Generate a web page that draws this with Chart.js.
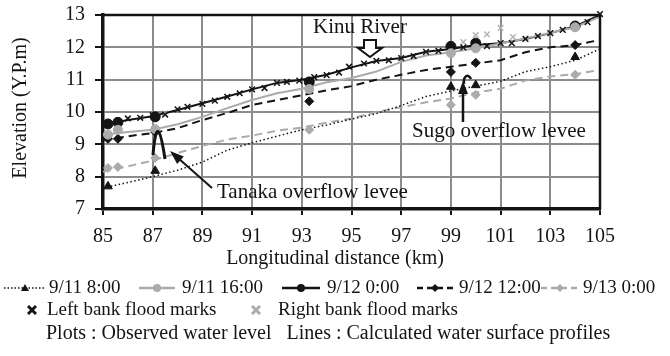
<!DOCTYPE html>
<html>
<head>
<meta charset="utf-8">
<script src="https://cdn.jsdelivr.net/npm/chart.js@4"></script>
<style>
html, body { margin:0; padding:0; background:#fff; }
</style>
</head>
<body>
<canvas id="myChart" width="670" height="356"></canvas>
<script>
// calculated water surface profiles (km, elevation Y.P.m)
const distKm = [85, 86, 87, 88, 89, 90, 91, 92, 93, 94, 95, 96, 97, 98, 99, 100, 101, 102, 103, 104, 105];
const calc0911_0800 = [7.65, 7.82, 8.0, 8.2, 8.45, 8.82, 9.05, 9.25, 9.45, 9.6, 9.78, 9.95, 10.2, 10.48, 10.65, 10.8, 10.95, 11.25, 11.4, 11.6, 11.95];
const calc0911_1600 = [9.3, 9.38, 9.45, 9.62, 9.85, 10.12, 10.37, 10.58, 10.72, 10.92, 11.05, 11.25, 11.55, 11.75, 11.85, 11.97, 12.12, 12.27, 12.45, 12.62, 12.95];
const calc0912_0000 = [9.6, 9.75, 9.87, 10.06, 10.27, 10.48, 10.7, 10.9, 11.0, 11.15, 11.38, 11.58, 11.67, 11.86, 11.95, 12.07, 12.13, 12.26, 12.44, 12.65, 13.0];
const calc0912_1200 = [9.13, 9.25, 9.35, 9.5, 9.75, 9.97, 10.22, 10.37, 10.52, 10.67, 10.8, 11.0, 11.15, 11.3, 11.4, 11.5, 11.6, 11.85, 12.0, 12.07, 12.23];
const calc0913_0000 = [8.15, 8.32, 8.5, 8.73, 8.95, 9.15, 9.27, 9.42, 9.52, 9.67, 9.8, 10.0, 10.15, 10.3, 10.42, 10.6, 10.72, 10.97, 11.1, 11.17, 11.3];

// observed water levels
const obsKm = [85.2, 85.6, 87.1, 93.3, 99, 100, 104];
const obs0911_0800 = [7.7, null, 8.18, null, 10.78, 10.83, 11.7];
const obs0911_1600 = [9.3, 9.45, 9.47, 10.71, 11.82, 11.97, 12.62];
const obs0912_0000 = [9.63, 9.68, 9.85, 10.93, 12.03, 12.13, 12.66];
const obs0912_1200 = [9.17, 9.17, 9.38, 10.33, 11.24, 11.52, 12.07];
const obs0913_0000 = [8.27, 8.3, 8.58, 9.45, 10.22, 10.53, 11.15];

// flood marks
const leftBankKm = [86.0, 86.5, 87.0, 87.5, 88.0, 88.4, 89.0, 89.5, 90.0, 90.5, 91.0, 91.5, 92.0, 92.4, 92.9, 93.5, 94.0, 94.5, 94.9, 95.5, 96.0, 96.5, 97.0, 97.5, 98.0, 98.5, 99.5, 100.45, 101.0, 101.45, 102.0, 102.5, 103.0, 103.5, 104.5, 105.0];
const leftBankLevel = [9.8, 9.82, 9.9, 9.92, 10.08, 10.16, 10.25, 10.35, 10.47, 10.58, 10.7, 10.74, 10.9, 10.93, 10.97, 11.08, 11.14, 11.22, 11.4, 11.5, 11.58, 11.6, 11.67, 11.73, 11.86, 11.89, 12.0, 12.04, 12.13, 12.13, 12.26, 12.35, 12.44, 12.54, 12.78, 13.03];
const rightBankKm = [87.5, 99.5, 100.0, 100.45, 101.0, 101.5];
const rightBankLevel = [9.95, 12.16, 12.38, 12.4, 12.6, 12.32];

const xTicks = [85, 87, 89, 91, 93, 95, 97, 99, 101, 103, 105];
const yTicks = [7, 8, 9, 10, 11, 12, 13];

const timeLabels = ['9/11 8:00', '9/11 16:00', '9/12 0:00', '9/12 12:00', '9/13 0:00'];

const BLACK = '#141414';
const GRAY = '#ababab';
const GRID = '#8c8c8c';
const SERIF = '"Liberation Serif", "Times New Roman", serif';

function pts(xs, ys) {
    return xs.map((x, i) => ({x: x, y: ys[i]})).filter(p => p.y !== null);
}

function markerSet(label, ys, style, color, r) {
    return {
        label: label, data: pts(obsKm, ys), showLine: false,
        pointStyle: style, pointRadius: r, pointHoverRadius: r,
        backgroundColor: color, borderColor: color, borderWidth: 1, clip: 8
    };
}

function lineSet(label, ys, color, dash, w) {
    return {
        label: label, data: pts(distKm, ys), showLine: true, pointRadius: 0,
        borderColor: color, borderWidth: w, borderDash: dash, tension: 0, clip: 4
    };
}

function drawMark(ctx, kind, x, y, r, color) {
    ctx.save();
    ctx.fillStyle = color;
    ctx.strokeStyle = color;
    ctx.setLineDash([]);
    ctx.beginPath();
    if (kind === 'tri') {
        ctx.moveTo(x, y - r); ctx.lineTo(x + r, y + r * 0.75); ctx.lineTo(x - r, y + r * 0.75); ctx.closePath(); ctx.fill();
    } else if (kind === 'circle') {
        ctx.arc(x, y, r, 0, Math.PI * 2); ctx.fill();
    } else if (kind === 'diamond') {
        ctx.moveTo(x, y - r); ctx.lineTo(x + r, y); ctx.lineTo(x, y + r); ctx.lineTo(x - r, y); ctx.closePath(); ctx.fill();
    } else if (kind === 'cross') {
        ctx.lineWidth = 3;
        ctx.moveTo(x - r, y - r); ctx.lineTo(x + r, y + r);
        ctx.moveTo(x + r, y - r); ctx.lineTo(x - r, y + r);
        ctx.stroke();
    }
    ctx.restore();
}

function arrowHead(ctx, x0, y0, x1, y1, len, half) {
    const a = Math.atan2(y1 - y0, x1 - x0);
    ctx.beginPath();
    ctx.moveTo(x1, y1);
    ctx.lineTo(x1 - len * Math.cos(a) + half * Math.sin(a), y1 - len * Math.sin(a) - half * Math.cos(a));
    ctx.lineTo(x1 - len * Math.cos(a) - half * Math.sin(a), y1 - len * Math.sin(a) + half * Math.cos(a));
    ctx.closePath();
    ctx.fill();
}

const decor = {
    id: 'decor',
    afterDraw(chart) {
        const ctx = chart.ctx;
        const a = chart.chartArea;
        ctx.save();
        ctx.setLineDash([]);
        // top and right frame
        ctx.strokeStyle = BLACK;
        ctx.lineWidth = 2.5;
        ctx.beginPath();
        ctx.moveTo(a.left, a.top); ctx.lineTo(a.right, a.top); ctx.lineTo(a.right, a.bottom);
        ctx.stroke();

        ctx.fillStyle = BLACK;
        ctx.textBaseline = 'middle';

        // Kinu River
        ctx.font = '21px ' + SERIF;
        ctx.textAlign = 'left';
        ctx.fillText('Kinu River', 313, 27);
        ctx.beginPath();
        ctx.moveTo(364, 40); ctx.lineTo(376, 40); ctx.lineTo(376, 48); ctx.lineTo(382, 48);
        ctx.lineTo(370, 57); ctx.lineTo(358, 48); ctx.lineTo(364, 48); ctx.closePath();
        ctx.fillStyle = '#fff'; ctx.fill();
        ctx.lineWidth = 2; ctx.stroke();
        ctx.fillStyle = BLACK;

        // Sugo overflow levee
        ctx.fillText('Sugo overflow levee', 412, 131);
        ctx.lineWidth = 2.5;
        ctx.beginPath(); ctx.moveTo(463, 122); ctx.lineTo(463, 92); ctx.stroke();
        arrowHead(ctx, 463, 122, 463, 81, 13, 5);
        ctx.beginPath(); ctx.moveTo(464, 84); ctx.bezierCurveTo(463, 76, 468, 73, 471, 79); ctx.stroke();

        // Tanaka overflow levee
        ctx.fillText('Tanaka overflow levee', 217, 192);
        ctx.lineWidth = 2;
        ctx.beginPath(); ctx.moveTo(212, 188); ctx.lineTo(178, 158); ctx.stroke();
        arrowHead(ctx, 212, 188, 170, 151, 14, 5);
        ctx.lineWidth = 3;
        ctx.beginPath(); ctx.moveTo(153, 155); ctx.quadraticCurveTo(157, 106, 165, 159); ctx.stroke();

        // axis titles
        ctx.font = '20px ' + SERIF;
        ctx.textAlign = 'center';
        ctx.fillText('Longitudinal distance (km)', 335, 259);
        ctx.save();
        ctx.translate(21, 108);
        ctx.rotate(-Math.PI / 2);
        ctx.fillText('Elevation (Y.P.m)', 0, 0);
        ctx.restore();

        // legend
        ctx.font = '19px ' + SERIF;
        ctx.textAlign = 'left';
        const r1 = 288;
        const items = [
            {x0: 4, x1: 46, tx: 49, color: BLACK, dash: [1.5, 2], w: 1.5, mk: 'tri'},
            {x0: 139, x1: 175, tx: 182, color: GRAY, dash: [], w: 2.5, mk: 'circle'},
            {x0: 282, x1: 320, tx: 327, color: BLACK, dash: [], w: 2.5, mk: 'circle'},
            {x0: 417, x1: 453, tx: 459, color: BLACK, dash: [6, 4], w: 2.5, mk: 'diamond'},
            {x0: 541, x1: 579, tx: 583, color: GRAY, dash: [6, 4], w: 2.5, mk: 'diamond'}
        ];
        items.forEach((it, i) => {
            ctx.save();
            ctx.strokeStyle = it.color;
            ctx.lineWidth = it.w;
            ctx.setLineDash(it.dash);
            ctx.beginPath(); ctx.moveTo(it.x0, r1); ctx.lineTo(it.x1, r1); ctx.stroke();
            ctx.restore();
            drawMark(ctx, it.mk, (it.x0 + it.x1) / 2, r1, 4, it.color);
            ctx.fillStyle = BLACK;
            ctx.fillText(timeLabels[i], it.tx, r1);
        });
        const r2 = 310;
        drawMark(ctx, 'cross', 32, r2, 4, BLACK);
        ctx.fillText('Left bank flood marks', 47, r2);
        drawMark(ctx, 'cross', 256, r2, 4, GRAY);
        ctx.fillStyle = BLACK;
        ctx.fillText('Right bank flood marks', 278, r2);
        ctx.font = '20px ' + SERIF;
        ctx.fillText('Plots : Observed water level   Lines : Calculated water surface profiles', 46, 334);
        ctx.restore();
    }
};

const ctx = document.getElementById('myChart').getContext('2d');
const myChart = new Chart(ctx, {
    type: 'scatter',
    data: {
        datasets: [
            {
                label: 'Left bank flood marks', data: pts(leftBankKm, leftBankLevel), showLine: false,
                pointStyle: 'crossRot', pointRadius: 4, borderColor: BLACK, borderWidth: 1.5, clip: 8
            },
            {
                label: 'Right bank flood marks', data: pts(rightBankKm, rightBankLevel), showLine: false,
                pointStyle: 'crossRot', pointRadius: 4, borderColor: '#b5b5b5', borderWidth: 1.5, clip: 8
            },
            markerSet(timeLabels[0], obs0911_0800, 'triangle', BLACK, 5),
            markerSet(timeLabels[1], obs0911_1600, 'circle', GRAY, 4.5),
            markerSet(timeLabels[2], obs0912_0000, 'circle', BLACK, 5),
            markerSet(timeLabels[3], obs0912_1200, 'rectRot', BLACK, 4.5),
            markerSet(timeLabels[4], obs0913_0000, 'rectRot', GRAY, 4.5),
            lineSet(timeLabels[0], calc0911_0800, BLACK, [1.5, 2.5], 1.5),
            lineSet(timeLabels[1], calc0911_1600, GRAY, [], 2),
            lineSet(timeLabels[2], calc0912_0000, BLACK, [], 2),
            lineSet(timeLabels[3], calc0912_1200, BLACK, [8, 5], 2),
            lineSet(timeLabels[4], calc0913_0000, GRAY, [8, 5], 2)
        ]
    },
    options: {
        responsive: false,
        animation: false,
        devicePixelRatio: 1,
        layout: { padding: { left: 0, top: 15, right: 70, bottom: 107 } },
        scales: {
            x: {
                type: 'linear', min: 85, max: 105,
                afterFit: (s) => { s.height = 40; s.paddingLeft = 0; s.paddingRight = 0; },
                afterBuildTicks: (s) => { s.ticks = xTicks.map(v => ({value: v})); },
                ticks: { color: BLACK, padding: 10, maxRotation: 0, font: { family: SERIF, size: 20 } },
                grid: { color: GRID, lineWidth: 2, tickColor: BLACK, tickLength: 6, tickWidth: 2 },
                border: { color: BLACK, width: 3.5 }
            },
            y: {
                min: 7, max: 13,
                afterFit: (s) => { s.width = 103; s.paddingTop = 0; s.paddingBottom = 0; },
                afterBuildTicks: (s) => { s.ticks = yTicks.map(v => ({value: v})); },
                ticks: { color: BLACK, padding: 10, font: { family: SERIF, size: 20 } },
                grid: { color: GRID, lineWidth: 2, tickColor: BLACK, tickLength: 8, tickWidth: 2 },
                border: { color: BLACK, width: 3.5 }
            }
        },
        plugins: {
            legend: { display: false },
            tooltip: { enabled: false }
        }
    },
    plugins: [decor]
});
</script>
</body>
</html>
